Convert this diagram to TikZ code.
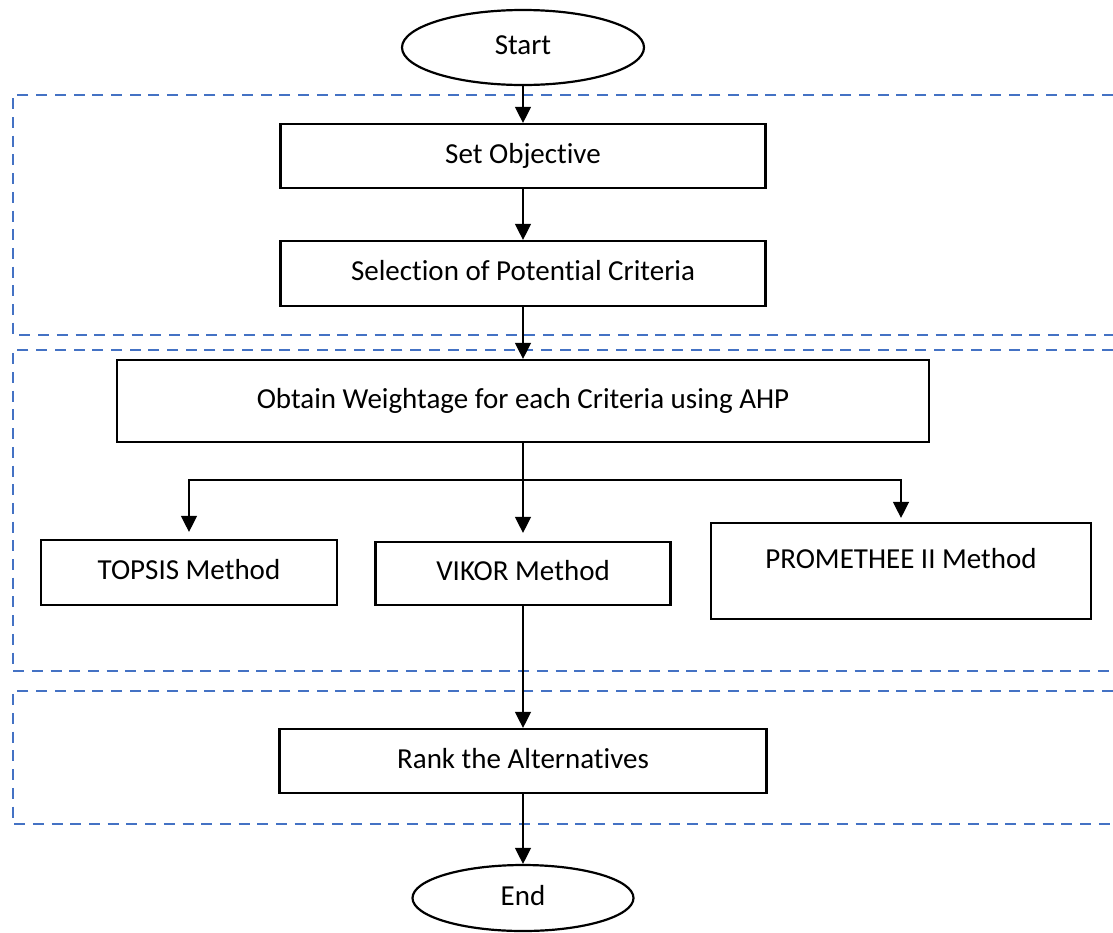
\documentclass[tikz,border=0pt]{standalone}
\usepackage{fontspec}
\setmainfont{Carlito}[Ligatures=NoCommon, RawFeature=-calt, RawFeature=-clig, RawFeature=-dlig]
\usetikzlibrary{arrows.meta,shapes.geometric}
\definecolor{groupblue}{HTML}{4472C4}
\tikzset{
  x=1pt, y=-1pt,
  base/.style={font=\fontsize{29}{34}\selectfont, text height=20pt, text depth=6pt, inner sep=0pt},
  stepbox/.style={base, draw, rectangle, line width=2.2pt},
  terminal/.style={base, draw, ellipse, line width=2.2pt},
  flow/.style={line width=1.3pt},
  arrow/.style={flow, -{Triangle[width=16pt,length=16pt]}},
  group/.style={groupblue, line width=2pt, dash pattern=on 11pt off 7.7pt},
}
\begin{document}
\begin{tikzpicture}
\useasboundingbox (0,0) rectangle (1113,932);

% dashed stage frames, open on the right
\draw[group] (1113,95) -| (13,335) -- (1113,335);
\draw[group] (1113,350) -| (13,671) -- (1113,671);
\draw[group] (1113,691) -| (13,824) -- (1113,824);

% terminals
\node[terminal, minimum width=242pt, minimum height=75pt] (start) at (523,47.5) {Start};
\node[terminal, minimum width=221pt, minimum height=66pt] (end) at (523,898) {End};

% process steps
\node[stepbox, minimum width=485pt, minimum height=64pt] (setobj) at (523,156) {Set Objective};
\node[stepbox, minimum width=485pt, minimum height=65pt] (select) at (523,273.5) {Selection of Potential Criteria};
\node[stepbox, minimum width=812pt, minimum height=82pt] (obtain) at (523,401) {Obtain Weightage for each Criteria using AHP};
\node[stepbox, minimum width=296pt, minimum height=65pt] (topsis) at (189,572.5) {TOPSIS Method};
\node[stepbox, minimum width=295pt, minimum height=63pt] (vikor) at (523,573.5) {VIKOR Method};
\node[stepbox, minimum width=380pt, minimum height=96pt, text depth=26pt] (prom) at (901,571) {PROMETHEE II Method};
\node[stepbox, minimum width=487pt, minimum height=64pt] (rank) at (523,761) {Rank the Alternatives};

% branching point below the AHP step
\coordinate (split) at (523,480);

% connectors
\draw[arrow] (start.south) -- (setobj.north);
\draw[arrow] (setobj.south) -- (select.north);
\draw[arrow] (select.south) -- (obtain.north);
\draw[arrow, shorten >=8pt] (obtain.south) -- (vikor.north);
\draw[arrow, shorten >=7pt] (split) -| (topsis.north);
\draw[arrow, shorten >=4pt] (split) -| (prom.north);
\draw[arrow] (vikor.south) -- (rank.north);
\draw[arrow] (rank.south) -- (end.north);
\end{tikzpicture}
\end{document}
